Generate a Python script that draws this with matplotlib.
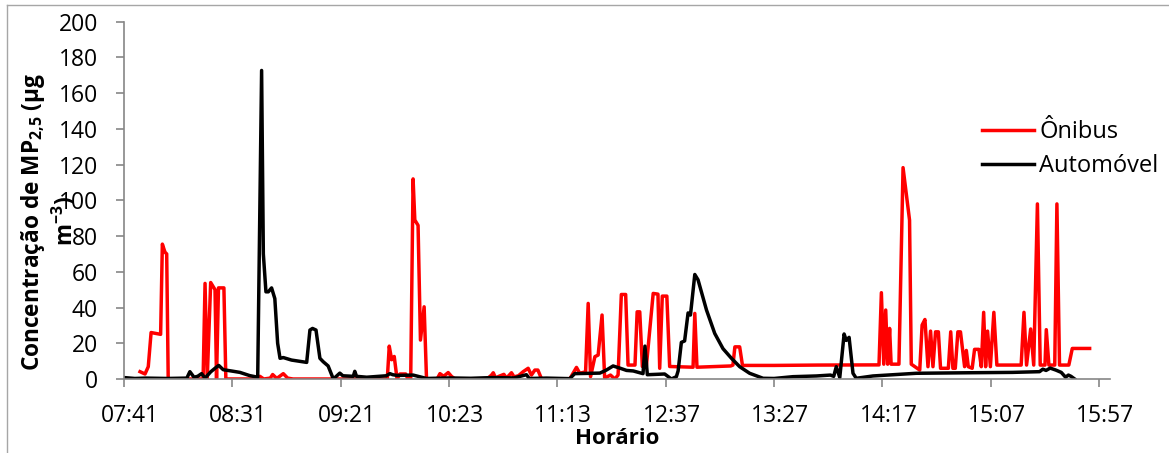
import matplotlib
matplotlib.use('Agg')
import matplotlib.pyplot as plt
from matplotlib.lines import Line2D
from matplotlib.transforms import ScaledTranslation

plt.rcParams['font.family'] = ['Open Sans', 'DejaVu Sans']
plt.rcParams['mathtext.fontset'] = 'custom'
plt.rcParams['mathtext.rm'] = 'Open Sans'
plt.rcParams['mathtext.bf'] = 'Open Sans:bold'

# eixo de categorias: 1 categoria por minuto de medicao, rotulo a cada 50
rotulos_x = ['07:41', '08:31', '09:21', '10:23', '11:13', '12:37', '13:27', '14:17', '15:07', '15:57']
posicoes_rotulos = [0, 50, 100, 150, 200, 250, 300, 350, 400, 450]

# vertices (indice da categoria, concentracao)
onibus_x = [7.4, 9.7, 11.2, 12.5, 16.9, 17.7, 18.9, 19.7, 20.4,
            36.5, 37.4, 38.4, 40, 42, 42.7, 43.6, 46.1, 47,
            61.5, 62.7, 64.5, 67.5, 68.6, 70.5, 73.5, 75.5, 78,
            121.5, 122.4, 123.5, 124.7, 126, 127.3, 130, 131,
            132.3, 133.4, 134.2, 135.7, 136.8, 138.5, 139.6,
            144.5, 145.8, 147.5, 149.6, 151.1, 152.7,
            167.5, 169.6, 170.4, 171.5, 173, 175.3, 176.5, 178.8, 180, 182, 184.2, 186.5, 188, 189.6, 191, 192.7,
            205.7, 208.8, 210.3, 213, 214.2, 215.3, 217.3, 218.8, 220.6, 221.8, 224.5, 226.5, 228,
            229.5, 231.5, 232.6, 235.8, 236.8, 238, 239.2, 241, 244.2, 246.4, 247.2, 248.4, 250.5, 251.8,
            262.6, 263.4, 264.4, 280, 281, 281.9, 284.1, 285.4, 300, 320, 348.4,
            349.5, 350.6, 351.5, 352.4, 353.3, 354, 357.6, 359.5, 362.5, 363.3, 367.2, 368.3, 369.6,
            371, 372.2, 373.3, 374.5, 375.8, 376.8, 380.4, 381.5, 382.5, 383.6, 384.8, 386, 387.9,
            388.7, 389.6, 391.4, 392.5, 394.5, 395.6, 396.7, 397.6, 398.5, 399.8, 401.4, 402.8,
            414, 415.3, 416.5, 418.4, 419.8, 421.5, 422.8, 425, 425.6, 426.8, 429.5, 430.5, 431.7,
            436, 437.6, 445.6]
onibus_y = [4.1, 2.8, 6.9, 26, 25, 75.5, 71, 70, 0,
            0, 53.5, 0, 54, 50, 0, 51, 51, 0,
            0, 1.5, 0, 0.5, 2.5, 0.3, 3, 0.5, 0,
            0, 18.4, 10.8, 12.6, 0, 2.8, 2.8, 0,
            0, 112, 89, 86, 21.8, 40.4, 0,
            0, 3, 1.5, 3.6, 1.5, 0,
            0, 2.2, 3.5, 0.5, 1.5, 2.6, 0.5, 3.5, 1.2, 1.8, 4.1, 6, 2.2, 5, 5, 0,
            0, 6.5, 3.2, 4, 42.3, 1.3, 12.5, 13.4, 35.8, 0.5, 2.2, 0, 2.2,
            47.3, 47.3, 7.8, 7.8, 37.6, 37.6, 7, 6.6, 47.9, 47.5, 6, 46.4, 46.4, 7,
            6.6, 36.7, 6.6, 7.3, 7.8, 18, 18, 7.6, 7.6, 7.8, 7.9,
            48.3, 8.3, 38.6, 8.3, 28.3, 8.3, 8.3, 118.3, 88.9, 8.3, 5, 30.2, 33.3,
            6.9, 26.8, 6.9, 26.4, 26.4, 6, 6, 26.4, 6, 6, 26.4, 26.4, 6.9,
            16, 6.9, 6, 16.6, 16.6, 6.9, 37.3, 6.9, 26.8, 6.9, 37.3, 7.8,
            7.8, 37.3, 7.8, 28, 7.8, 98, 7.8, 7.8, 27.6, 7.8, 7.8, 98, 7.8,
            7.8, 17.1, 17.1]

auto_x = [0, 5, 10, 20, 29, 30.4, 32.3, 34, 35.8, 37.4, 40, 42, 43.7, 45.8, 50, 53.5, 58, 61.7,
          63.5, 64.3, 65.5, 66.6, 68.1, 69.6, 70.9, 72, 73.5, 77.3, 84.3, 85.8, 87, 88.6, 90.4, 91.9,
          94.2, 96.6, 99.6, 101, 105.8, 106.5, 107.3, 112, 121, 122.7, 124, 126, 133.4, 139.6,
          150, 160, 170, 180, 185.7, 187, 195, 205.7, 208, 219.6, 222.6, 225.7, 228.8, 231.9, 235,
          239.5, 240.4, 241.5, 249.5, 252.6, 254.9, 255.7, 257.2, 258.7, 260.3, 261.4, 263.4, 264.9,
          268.8, 272.6, 276.4, 280.3, 284.1, 288.7, 294.9, 300, 308.7, 319.5, 326, 327.5, 328.7,
          330.3, 332.3, 333.3, 334.6, 336.4, 337.9, 345.6, 365.6, 390, 410, 422.5, 424, 425.5,
          427.4, 430, 432.5, 434.5, 435.8, 437, 438.7]
auto_y = [0.8, 0.3, 0.5, 0.3, 0.5, 4.1, 1, 1.5, 3, 0.5, 4, 6, 7.6, 5.2, 4.4, 3.7, 1.9, 1,
          172.7, 70, 48.8, 48.8, 51, 45, 20, 11.6, 12, 10.6, 9.3, 27.4, 28.3, 27.4, 11.6, 9.7,
          7.3, 0, 3.3, 1.8, 1.5, 4.3, 1.5, 1, 1.8, 3, 2.4, 2, 2.2, 0.3,
          0.6, 0.4, 0.8, 0.6, 2.4, 0.3, 0.5, 0.2, 3, 3.3, 5, 7.3, 6.1, 4.8, 4.5,
          3, 18.4, 2.4, 2.8, 0, 1.3, 4.5, 20.5, 21.3, 37, 35.8, 58.5, 55.5,
          38.6, 25.5, 17, 11.6, 6.9, 3.2, 0.4, 0.3, 1.3, 1.7, 2.2, 1.5, 6.9,
          0.8, 25.2, 21.6, 23.3, 3.2, 0.4, 1.7, 3.2, 3.5, 3.7, 4.1, 5.5, 4.8,
          6.1, 5, 3.7, 1, 2.2, 1.5, 0]

W, H = 1169, 453
fig = plt.figure(figsize=(W / 100, H / 100), dpi=100)
ax = fig.add_axes([124 / W, 1 - 379 / H, (1110 - 124) / W, (379 - 21.7) / H])

ax.plot(onibus_x, onibus_y, color='#ff0000', lw=2.5, label='Ônibus', solid_joinstyle='round')
ax.plot(auto_x, auto_y, color='black', lw=2.5, label='Automóvel', solid_joinstyle='round')

ax.set_xlim(0, 455)
ax.set_ylim(0, 200)
ax.set_yticks(range(0, 201, 20))
ax.set_xticks(posicoes_rotulos)
ax.set_xticklabels(rotulos_x)

cinza = '#868686'
for s in ['top', 'right']:
    ax.spines[s].set_visible(False)
for s in ['left', 'bottom']:
    ax.spines[s].set_color(cinza)
    ax.spines[s].set_linewidth(1.2)
ax.tick_params(axis='both', direction='out', length=5.8, width=1.2, color=cinza, labelsize=16.5, pad=13)
ax.tick_params(axis='x', pad=12)
for lab in ax.get_xticklabels():
    lab.set_transform(lab.get_transform() + ScaledTranslation(6 / 100, 0, fig.dpi_scale_trans))

fig.text(617 / W, 1 - 438 / H, 'Horário', ha='center', va='center', fontsize=16, fontweight='bold')
fig.text(33 / W, 1 - 222 / H, 'Concentração de MP$_{\\mathbf{2{,}5}}$ (µg', rotation=90,
         ha='center', va='center', fontsize=16.3, fontweight='bold')
fig.text(65 / W, 1 - 221 / H, 'm$^{\\mathbf{-3}}$)', rotation=90,
         ha='center', va='center', fontsize=16.3, fontweight='bold')

ax.legend(loc='upper left', bbox_to_anchor=(982 / W, 1 - 120 / H), bbox_transform=fig.transFigure,
          frameon=False, fontsize=17, handlelength=2.2, handletextpad=0.22, labelspacing=0.42,
          borderpad=0, borderaxespad=0)

# moldura da area do grafico (so aparecem topo e lado esquerdo)
fig.add_artist(Line2D([7 / W, 7 / W], [0, 1 - 5 / H], transform=fig.transFigure, color='#a6a6a6', lw=1))
fig.add_artist(Line2D([7 / W, 1], [1 - 5 / H, 1 - 5 / H], transform=fig.transFigure, color='#a6a6a6', lw=1))

fig.savefig('out.png', dpi=100)
